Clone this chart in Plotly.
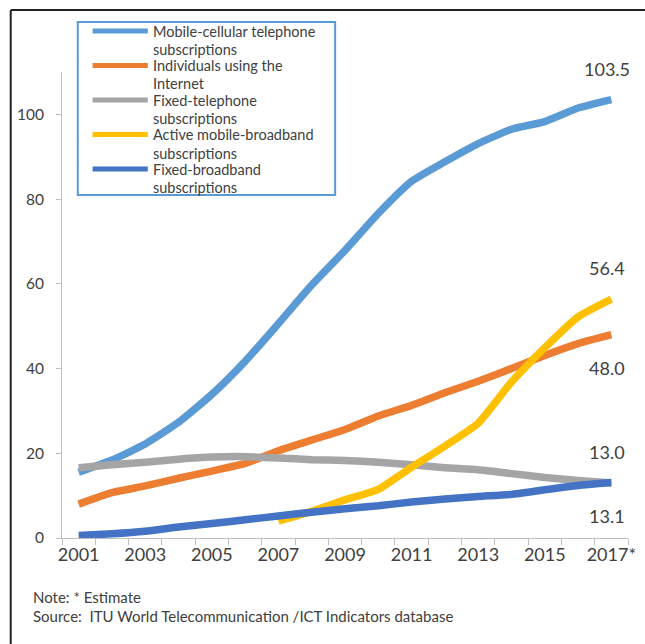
import plotly.graph_objects as go

years = list(range(2001, 2018))
mobile_cellular = [15.5, 18.4, 22.2, 27.3, 33.9, 41.7, 50.6, 59.7, 67.9, 76.6, 84.2, 88.8, 93.1, 96.5, 98.3, 101.5, 103.5]
internet_users = [8.0, 10.7, 12.3, 14.1, 15.8, 17.6, 20.6, 23.1, 25.6, 28.8, 31.3, 34.3, 37.0, 40.0, 43.1, 45.9, 48.0]
fixed_telephone = [16.6, 17.3, 17.9, 18.6, 19.1, 19.2, 18.9, 18.5, 18.3, 17.9, 17.3, 16.6, 16.1, 15.2, 14.3, 13.6, 13.0]
mobile_broadband_years = list(range(2007, 2018))
mobile_broadband = [4.0, 6.3, 9.0, 11.5, 16.7, 21.7, 27.1, 36.8, 44.9, 52.2, 56.4]
fixed_broadband = [0.6, 1.0, 1.6, 2.6, 3.4, 4.3, 5.2, 6.1, 6.9, 7.6, 8.5, 9.2, 9.8, 10.3, 11.4, 12.4, 13.1]

tick_years = [2001, 2003, 2005, 2007, 2009, 2011, 2013, 2015, 2017]
tick_labels = ["2001", "2003", "2005", "2007", "2009", "2011", "2013", "2015", "2017*"]

names = [["Mobile-cellular telephone", "subscriptions"],
         ["Individuals using the", "Internet"],
         ["Fixed-telephone", "subscriptions"],
         ["Active mobile-broadband", "subscriptions"],
         ["Fixed-broadband", "subscriptions"]]
colors = ["#5B9BD5", "#ED7D31", "#A5A5A5", "#FFC000", "#4472C4"]

series = [(years, mobile_cellular), (years, internet_users), (years, fixed_telephone),
          (mobile_broadband_years, mobile_broadband), (years, fixed_broadband)]
label_side = [31, -33, 31, 31, -33]

FONT = "Lato"
TXT = "#404040"

# pixel -> paper helpers (plot area: x 62..636, y 72..538)
L, R, T, B = 62, 636, 72, 538
def px(x):
    return (x - L) / (R - L)
def py(y):
    return (B - y) / (B - T)

fig = go.Figure()
for (xs, ys), name, c in zip(series, names, colors):
    fig.add_trace(go.Scatter(x=xs, y=ys, name=" ".join(name), mode="lines", showlegend=False,
                             line=dict(color=c, width=7.5, shape="spline", smoothing=0.5)))

# end labels
for (xs, ys), shift in zip(series, label_side):
    fig.add_annotation(x=xs[-1], y=ys[-1], text=f"{ys[-1]:.1f}", showarrow=False,
                       xshift=-4, yshift=shift,
                       font=dict(family=FONT, size=18, color=TXT))

# legend box (drawn as shapes + text)
fig.add_shape(type="rect", xref="paper", yref="paper", x0=px(78), x1=px(339), y0=py(195), y1=py(22),
              line=dict(color="#5B9BD5", width=2), fillcolor="white", layer="above")
for i, (name, c) in enumerate(zip(names, colors)):
    yc = 31 + 34.5 * i
    fig.add_shape(type="line", xref="paper", yref="paper", x0=px(93), x1=px(149), y0=py(yc), y1=py(yc),
                  line=dict(color=c, width=5), layer="above")
    for j, line in enumerate(name):
        fig.add_annotation(xref="paper", yref="paper", x=px(152), y=py(yc + 18.5 * j),
                           xanchor="left", yanchor="middle", text=line, showarrow=False,
                           font=dict(family=FONT, size=14.5, color=TXT))

# notes
fig.add_annotation(xref="paper", yref="paper", x=-0.055, y=py(586), xanchor="left", yanchor="top",
                   text="Note: * Estimate", showarrow=False, font=dict(family=FONT, size=15, color=TXT))
fig.add_annotation(xref="paper", yref="paper", x=-0.055, y=py(605), xanchor="left", yanchor="top",
                   text="Source:  ITU World Telecommunication /ICT Indicators database", showarrow=False,
                   font=dict(family=FONT, size=15, color=TXT))

# outer frame (top and left edges)
fig.add_shape(type="line", xref="paper", yref="paper", x0=px(10), x1=px(10), y0=py(700), y1=py(10),
              line=dict(color="#222222", width=2))
fig.add_shape(type="line", xref="paper", yref="paper", x0=px(10), x1=px(700), y0=py(10), y1=py(10),
              line=dict(color="#222222", width=2))

fig.update_layout(
    width=645, height=644,
    margin=dict(l=L, r=645 - R, t=T, b=644 - B),
    paper_bgcolor="white", plot_bgcolor="white",
    font=dict(family=FONT, color=TXT),
    showlegend=False,
    xaxis=dict(range=[2000.5, 2017.5], tickmode="array", tickvals=tick_years, ticktext=tick_labels,
               ticks="", showline=True, linecolor="#BFBFBF", linewidth=1, showgrid=False, zeroline=False,
               tickfont=dict(family=FONT, size=18, color=TXT),
               minor=dict(tickvals=[y - 0.5 for y in years] + [2017.5], ticks="outside", ticklen=6,
                          tickcolor="#BFBFBF", showgrid=False)),
    yaxis=dict(range=[0, 110], tickmode="array", tickvals=[0, 20, 40, 60, 80, 100],
               ticks="outside", ticklen=5, tickcolor="#BFBFBF", showline=True, linecolor="#BFBFBF",
               showgrid=False, zeroline=False, ticklabelstandoff=9,
               tickfont=dict(family=FONT, size=15.5, color=TXT)),
)

fig.write_html("out.html", config={"displayModeBar": False},
               post_script="document.body.style.margin='0px';document.body.style.overflow='hidden';")
